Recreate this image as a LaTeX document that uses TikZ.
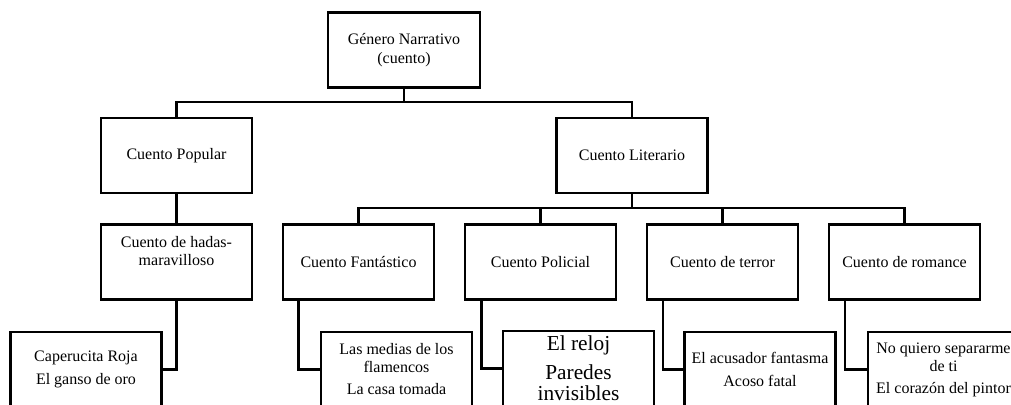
\documentclass[tikz,border=0pt]{standalone}
\usepackage{fontspec}
\setmainfont{Liberation Serif}
\usetikzlibrary{calc}
\begin{document}
\begin{tikzpicture}[x=0.75pt,y=-0.75pt,
  box/.style={draw, line width=1.6pt, minimum width=113.25pt, minimum height=56.25pt,
    align=center, inner sep=0pt, font=\fontsize{12pt}{13.5pt}\selectfont},
  bigtext/.style={font=\fontsize{16pt}{16pt}\selectfont},
  conn/.style={line width=1.6pt}]
\path[use as bounding box] (0,0) rectangle (1011,404);
\clip (0,0) rectangle (1011,404);
% level 0
\node[box, minimum width=114pt] (top) at (404,50) {Género Narrativo\\[1pt](cuento)};
% level 1
\node[box] (pop) at (176.5,155.5) {Cuento Popular};
\node[box] (lit) at (632,155.5) {Cuento Literario};
% level 2
\node[box] (hadas) at (176.5,262) {Cuento de hadas-\\maravilloso\\[3.75pt]\mbox{}};
\node[box] (fan) at (358.5,262) {Cuento Fantástico};
\node[box] (pol) at (540.5,262) {Cuento Policial};
\node[box] (ter) at (722.5,262) {Cuento de terror};
\node[box] (rom) at (904.5,262) {Cuento de romance};
% level 3
\node[box] (cap) at (86,369.5) {Caperucita Roja\\[3.75pt]El ganso de oro};
\node[box] (med) at (396.5,369.5) {Las medias de los\\flamencos\\[3pt]La casa tomada};
\node[box, bigtext] (rel) at (578.5,368.5) {El reloj\\[5.5pt]Paredes\\invisibles};
\node[box] (acu) at (760,369.5) {El acusador fantasma\\[3.75pt]Acoso fatal};
\node[box] (noq) at (943.5,369.5) {No quiero separarme\\de ti\\[3pt]El corazón del pintor};
% bus coordinates
\coordinate (b1) at (404,102);
\coordinate (b2) at (633,208);
% connectors
\draw[conn] (top.south) -- (b1);
\draw[conn] (pop.north) |- (b1) -| (lit.north);
\draw[conn] (pop.south) -- (hadas.north);
\draw[conn] (lit.south) -- (lit.south |- b2);
\draw[conn] (fan.north) |- (b2) -| (rom.north);
\draw[conn] (pol.north) -- (pol.north |- b2);
\draw[conn] (ter.north) -- (ter.north |- b2);
\draw[conn] (hadas.south) |- (cap.east);
\draw[conn] ($(fan.south)+(-60,0)$) |- (med.west);
\draw[conn] ($(pol.south)+(-59,0)$) |- (rel.west);
\draw[conn] ($(ter.south)+(-59.5,0)$) |- (acu.west);
\draw[conn] ($(rom.south)+(-59.5,0)$) |- (noq.west);
\end{tikzpicture}
\end{document}
